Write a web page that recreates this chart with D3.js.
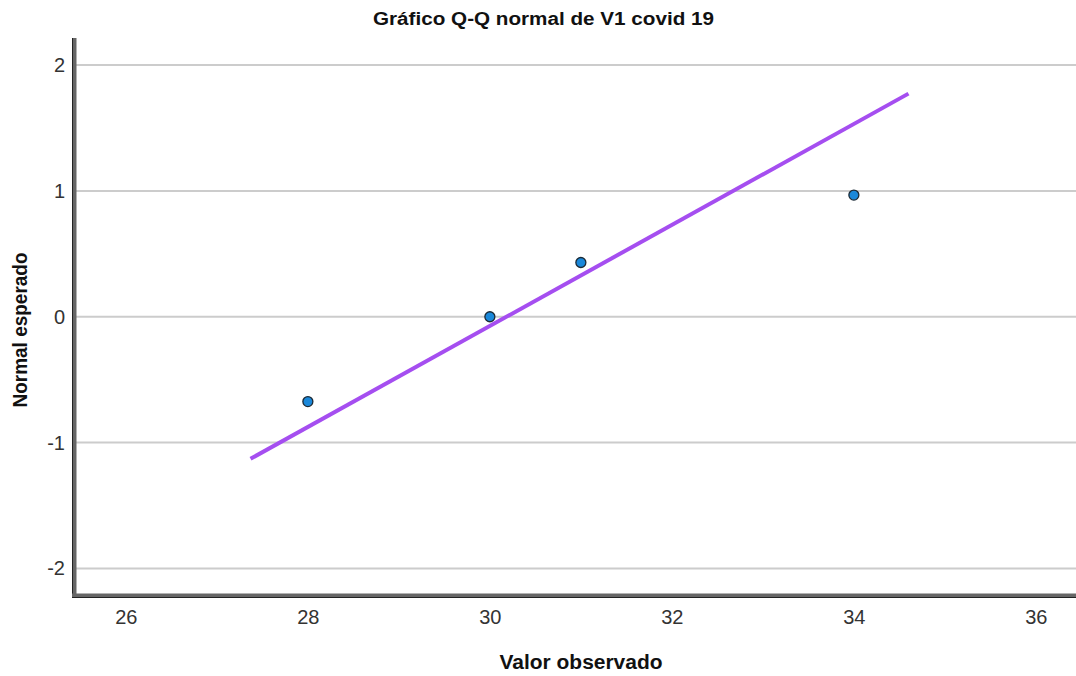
<!DOCTYPE html>
<html><head><meta charset="utf-8">
<script src="https://cdn.jsdelivr.net/npm/d3@7"></script>
<style>body{margin:0;background:#fff}svg{display:block}</style>
</head><body>
<script>
const title = "Gráfico Q-Q normal de V1 covid 19";
const xLabel = "Valor observado";
const yLabel = "Normal esperado";
const observed = [28, 30, 31, 34];
const expected = [-0.674, 0, 0.431, 0.967];
const lineX = [27.37, 34.60];
const lineY = [-1.129, 1.773];
const xTicks = [26, 28, 30, 32, 34, 36];
const yTicks = [-2, -1, 0, 1, 2];

const W = 1076, H = 676;
const FONT = "Liberation Sans, Arial, sans-serif";
const svg = d3.select("body").append("svg").attr("width", W).attr("height", H);
const x = d3.scaleLinear().domain([25.43, 36.43]).range([74, 1075]);
const y = d3.scaleLinear().domain([-2.215, 2.215]).range([595.5, 38]);

// gridlines
svg.append("g").selectAll("line").data(yTicks).join("line")
  .attr("x1", 76).attr("x2", W).attr("y1", d => y(d)).attr("y2", d => y(d))
  .attr("stroke", "#cccccc").attr("stroke-width", 2);

// axes (double line style)
const ax = svg.append("g");
ax.append("line").attr("x1", 74.5).attr("x2", 74.5).attr("y1", 38).attr("y2", 597)
  .attr("stroke", "#666").attr("stroke-width", 4);
ax.append("line").attr("x1", 72.5).attr("x2", 72.5).attr("y1", 38).attr("y2", 597)
  .attr("stroke", "#222").attr("stroke-width", 1);
ax.append("line").attr("x1", 72).attr("x2", W).attr("y1", 595.5).attr("y2", 595.5)
  .attr("stroke", "#666").attr("stroke-width", 4);
ax.append("line").attr("x1", 72).attr("x2", W).attr("y1", 597.5).attr("y2", 597.5)
  .attr("stroke", "#222").attr("stroke-width", 1);

// tick labels via axes
const xa = svg.append("g").attr("transform", "translate(0,597)")
  .call(d3.axisBottom(x).tickValues(xTicks).tickSize(0).tickPadding(13).tickFormat(d => String(d)));
xa.select(".domain").remove();
xa.selectAll("text").attr("font-family", FONT).attr("font-size", 20).attr("fill", "#333");
const ya = svg.append("g").attr("transform", "translate(72,0)")
  .call(d3.axisLeft(y).tickValues(yTicks).tickSize(0).tickPadding(7).tickFormat(d => String(d)));
ya.select(".domain").remove();
ya.selectAll("text").attr("font-family", FONT).attr("font-size", 20).attr("fill", "#333");

// reference line
svg.append("line")
  .attr("x1", x(lineX[0])).attr("y1", y(lineY[0]))
  .attr("x2", x(lineX[1])).attr("y2", y(lineY[1]))
  .attr("stroke", "#a54ef0").attr("stroke-width", 4);

// points
svg.append("g").selectAll("circle").data(observed).join("circle")
  .attr("cx", d => x(d)).attr("cy", (d, i) => y(expected[i])).attr("r", 5)
  .attr("fill", "#1a88da").attr("stroke", "#1b2a36").attr("stroke-width", 1.3);

// titles
svg.append("text").attr("x", 543.5).attr("y", 25).attr("text-anchor", "middle")
  .attr("font-family", FONT).attr("font-weight", "bold")
  .attr("font-size", 18).attr("textLength", 341).attr("lengthAdjust", "spacingAndGlyphs")
  .attr("fill", "#111").text(title);
svg.append("text").attr("x", 581).attr("y", 669).attr("text-anchor", "middle")
  .attr("font-family", FONT).attr("font-weight", "bold")
  .attr("font-size", 20).attr("textLength", 163).attr("lengthAdjust", "spacingAndGlyphs")
  .attr("fill", "#111").text(xLabel);
svg.append("text").attr("transform", "translate(27,330) rotate(-90)").attr("text-anchor", "middle")
  .attr("font-family", FONT).attr("font-weight", "bold")
  .attr("font-size", 20).attr("textLength", 155).attr("lengthAdjust", "spacingAndGlyphs")
  .attr("fill", "#111").text(yLabel);
</script>
</body></html>
